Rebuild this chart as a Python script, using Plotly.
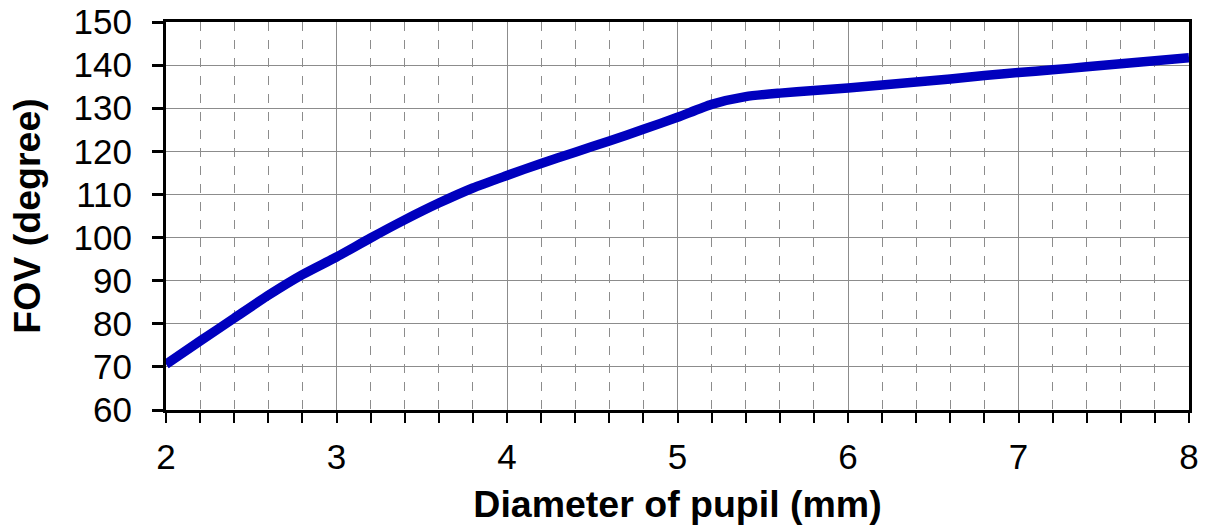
import plotly.graph_objects as go

pupil_mm = [2.0, 2.2, 2.4, 2.6, 2.8, 3.0, 3.2, 3.4, 3.6, 3.8, 4.0, 4.2, 4.4, 4.6, 4.8,
            5.0, 5.2, 5.4, 5.6, 5.8, 6.0, 6.2, 6.4, 6.6, 6.8, 7.0, 7.2, 7.4, 7.6, 7.8, 8.0]
fov_deg = [70.6, 76.0, 81.3, 86.6, 91.4, 95.5, 99.9, 104.1, 108.0, 111.5, 114.4, 117.2, 119.8, 122.4, 125.1,
           127.9, 130.9, 132.7, 133.5, 134.1, 134.7, 135.4, 136.1, 136.8, 137.6, 138.3, 138.9, 139.6, 140.3, 141.0, 141.7]

x_ticks = [2, 3, 4, 5, 6, 7, 8]
y_ticks = [60, 70, 80, 90, 100, 110, 120, 130, 140, 150]

FONT = "Liberation Sans, Arial, sans-serif"

fig = go.Figure()
fig.add_trace(go.Scatter(
    x=pupil_mm, y=fov_deg, mode="lines",
    line=dict(color="#0000BE", width=9.5, shape="spline", smoothing=0.6),
    showlegend=False, cliponaxis=False, hoverinfo="skip",
))

fig.update_layout(
    width=1205, height=525,
    margin=dict(l=166, r=16, t=22, b=115),
    paper_bgcolor="white", plot_bgcolor="white",
    font=dict(family=FONT, color="black"),
)

fig.update_xaxes(
    range=[2, 8], tickvals=x_ticks, ticktext=[str(v) for v in x_ticks],
    tickfont=dict(size=35, family=FONT, color="black"),
    ticks="outside", ticklen=10, tickwidth=2, tickcolor="black",
    ticklabelstandoff=4, ticklabeloverflow="allow",
    showline=True, linecolor="black", linewidth=3, mirror=True,
    showgrid=True, gridcolor="#8c8c8c", gridwidth=1.2,
    minor=dict(dtick=0.2, ticks="outside", ticklen=10, tickwidth=2, tickcolor="black",
               showgrid=True, gridcolor="#8c8c8c", gridwidth=1.2, griddash="dash"),
    zeroline=False, automargin=False,
    title=dict(text="<b>Diameter of pupil (mm)</b>", font=dict(size=37.5, family=FONT, color="black"),
               standoff=16),
)

fig.update_yaxes(
    range=[60, 150], tickvals=y_ticks, ticktext=[str(v) for v in y_ticks],
    tickfont=dict(size=35, family=FONT, color="black"),
    ticks="outside", ticklen=11, tickwidth=3, tickcolor="black",
    ticklabelstandoff=13, ticklabeloverflow="allow",
    showline=True, linecolor="black", linewidth=3, mirror=True,
    showgrid=True, gridcolor="#8c8c8c", gridwidth=1.2,
    zeroline=False, automargin=False,
    title=dict(text="<b>FOV (degree)</b>", font=dict(size=37.5, family=FONT, color="black"),
               standoff=22),
)

# remove the default 8px page margin so the figure fills the window exactly
fig.write_html(
    "out.html",
    config={"displayModeBar": False},
    post_script="document.body.style.margin='0';document.body.style.overflow='hidden';",
)
